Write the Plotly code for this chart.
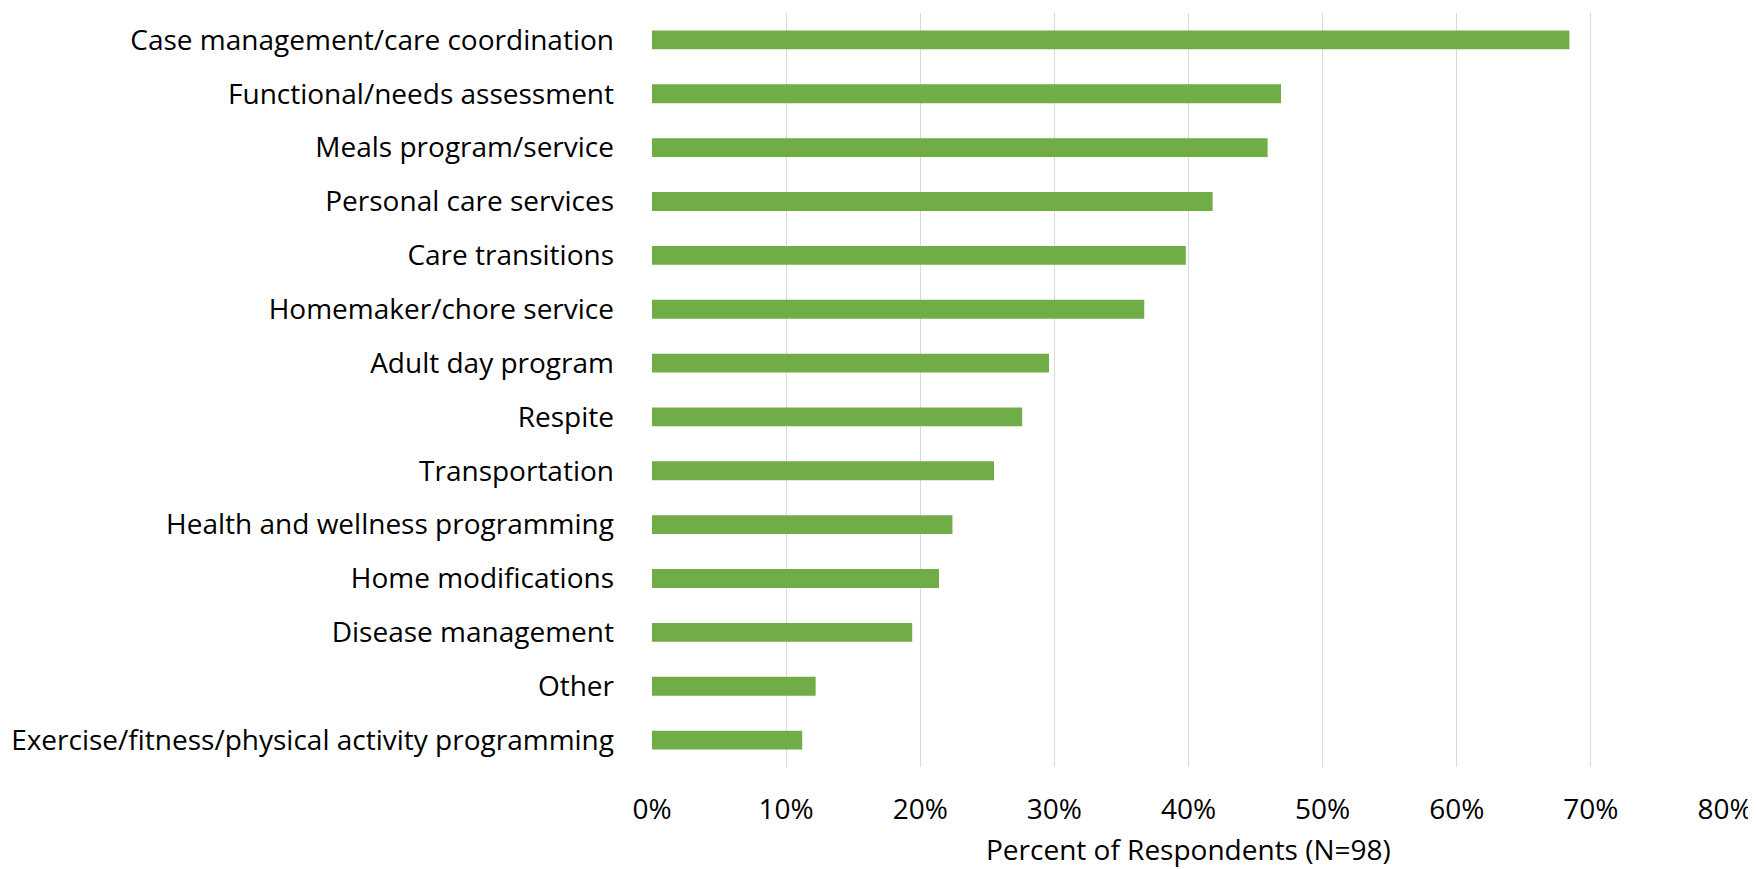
import plotly.graph_objects as go

CATEGORIES = [
    "Case management/care coordination",
    "Functional/needs assessment",
    "Meals program/service",
    "Personal care services",
    "Care transitions",
    "Homemaker/chore service",
    "Adult day program",
    "Respite",
    "Transportation",
    "Health and wellness programming",
    "Home modifications",
    "Disease management",
    "Other",
    "Exercise/fitness/physical activity programming",
]
PERCENT = [0.684, 0.469, 0.459, 0.418, 0.398, 0.367, 0.296, 0.276, 0.255, 0.224, 0.214, 0.194, 0.122, 0.112]
X_TICKS = [0, 0.1, 0.2, 0.3, 0.4, 0.5, 0.6, 0.7, 0.8]
X_TITLE = "Percent of Respondents (N=98)"
FONT = "Open Sans"
TEXT = dict(size=28, color="#000000", family=FONT)

fig = go.Figure(
    go.Bar(
        x=PERCENT,
        y=CATEGORIES,
        orientation="h",
        marker=dict(color="#70ad47", line=dict(width=0)),
        width=0.35,
    )
)

fig.update_xaxes(
    range=[0, 0.8],
    tickvals=X_TICKS,
    tickformat=".0%",
    showgrid=True,
    gridcolor="#d9d9d9",
    gridwidth=1,
    zeroline=False,
    showline=False,
    ticks="",
    ticklabelstandoff=23,
    tickfont=TEXT,
    automargin=False,
)
fig.update_yaxes(
    autorange="reversed",
    showgrid=False,
    ticks="",
    ticklabelstandoff=37,
    tickfont=TEXT,
    automargin=False,
)
# axis title as an annotation: standoff is ignored without automargin
fig.add_annotation(
    text=X_TITLE,
    xref="paper",
    yref="paper",
    x=0.5,
    y=0,
    xanchor="center",
    yanchor="top",
    yshift=-62,
    borderpad=0,
    showarrow=False,
    font=TEXT,
)
# page body adds an 8px margin, so the figure is shrunk to keep it in the window
fig.update_layout(
    width=1748,
    height=861,
    plot_bgcolor="white",
    paper_bgcolor="white",
    showlegend=False,
    margin=dict(l=644, r=31, t=5, b=102),
)

fig.write_html("out.html")
